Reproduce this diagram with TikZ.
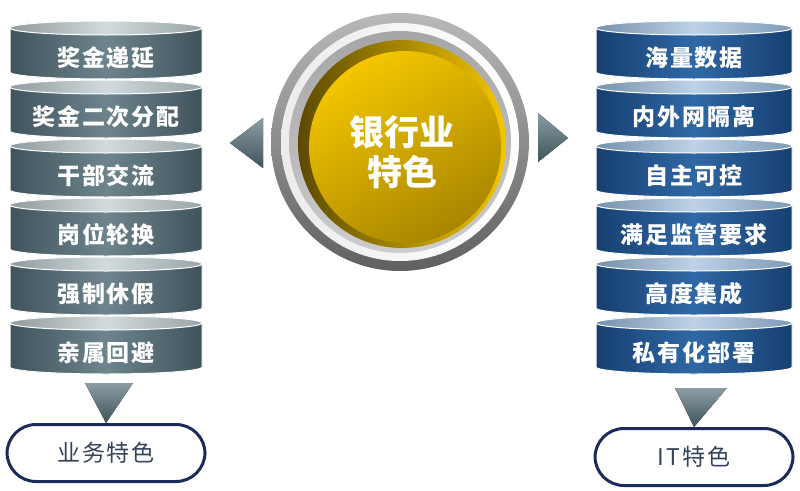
\documentclass[tikz,border=0pt]{standalone}
\usepackage{fontspec}
\usepackage{tikz}
\usetikzlibrary{shapes.geometric}
\newfontfamily\cjk{Noto Sans CJK SC}[LetterSpace=8]
\newfontfamily\cjkbig{Noto Sans CJK SC}

\definecolor{slateA}{HTML}{3F535C}
\definecolor{slateB}{HTML}{6E848D}
\definecolor{slateTop}{HTML}{B4C2C6}
\definecolor{navyA}{HTML}{173F70}
\definecolor{navyB}{HTML}{2F68A6}
\definecolor{navyTop}{HTML}{93B5D7}
\definecolor{pillLine}{HTML}{1C2C5A}
\definecolor{pillText}{HTML}{34435C}
\definecolor{goldA}{HTML}{F4C600}
\definecolor{goldB}{HTML}{A88600}

\begin{document}
\begin{tikzpicture}[x=1pt, y=-1pt,
    disctext/.style = {text=white, font=\cjk\bfseries\fontsize{23}{26}\selectfont},
    pill/.style = {draw=pillLine, line width=3pt, rounded corners=29pt,
      minimum width=198pt, minimum height=57pt, fill=white,
      text=pillText, font=\cjk\fontsize{23}{26}\selectfont},
    pointer/.style = {top color=slateB!80!white, bottom color=slateA}]
  \useasboundingbox (0,0) rectangle (800,490);

  % left stack: business features
  \foreach \t [count=\i from 0] in {奖金递延,奖金二次分配,干部交流,岗位轮换,强制休假,亲属回避} {
    \pgfmathsetmacro\yt{28+59*\i}
    \filldraw[draw=white, line width=1pt, left color=slateA, right color=slateA, middle color=slateB]
      (10,\yt) -- (10,\yt+44) arc[x radius=96, y radius=7, start angle=180, end angle=0]
      -- (202,\yt) -- cycle;
    \filldraw[draw=white, line width=1pt, left color=slateTop!80!black, right color=slateTop!85!black,
      middle color=slateTop!60!white] (106,\yt) ellipse[x radius=96, y radius=7];
    \node[disctext] (L\i) at (106,\yt+30) {\t};
  }

  % right stack: IT features
  \foreach \t [count=\i from 0] in {海量数据,内外网隔离,自主可控,满足监管要求,高度集成,私有化部署} {
    \pgfmathsetmacro\yt{28+59*\i}
    \filldraw[draw=white, line width=1pt, left color=navyA, right color=navyA, middle color=navyB]
      (596,\yt) -- (596,\yt+44) arc[x radius=98, y radius=7, start angle=180, end angle=0]
      -- (792,\yt) -- cycle;
    \filldraw[draw=white, line width=1pt, left color=navyTop!80!black, right color=navyTop!85!black,
      middle color=navyTop!60!white] (694,\yt) ellipse[x radius=98, y radius=7];
    \node[disctext] (R\i) at (694,\yt+30) {\t};
  }

  % centre badge
  \shade[top color=gray!55, bottom color=gray!75!black] (400,142) circle[radius=129];
  \shade[left color=gray!15, right color=white] (400,142) circle[radius=119];
  \shade[top color=gray!70, bottom color=gray!40] (400,142) circle[radius=111];
  \shade[left color=goldB!55!black, right color=goldA] (402,144) circle[radius=104];
  \shade[top color=goldA, bottom color=goldB, shading angle=30] (405,147) circle[radius=96];
  \node[text=white, align=center, font=\cjkbig\bfseries\fontsize{35}{40}\selectfont]
    (bank) at (402,152) {银行业\\特色};

  % side pointers
  \coordinate (lp) at (230,143);
  \coordinate (rp) at (568,138);
  \fill[pointer] (lp) -- ++(33,-25) -- ++(0,50) -- cycle;
  \fill[pointer] (rp) -- ++(-30,-25) -- ++(0,49) -- cycle;

  % bottom labels
  \node[pill] (biz) at (106,453) {业务特色};
  \node[pill] (it) at (694,457) {IT特色};
  \fill[pointer] (85,383) -- (133,383) -- (biz.north) ++(3,-6) coordinate (bt) -- cycle;
  \fill[pointer] (675,388) -- (727,388) -- (it.north) ++(7,-8) coordinate (it2) -- cycle;
\end{tikzpicture}
\end{document}
